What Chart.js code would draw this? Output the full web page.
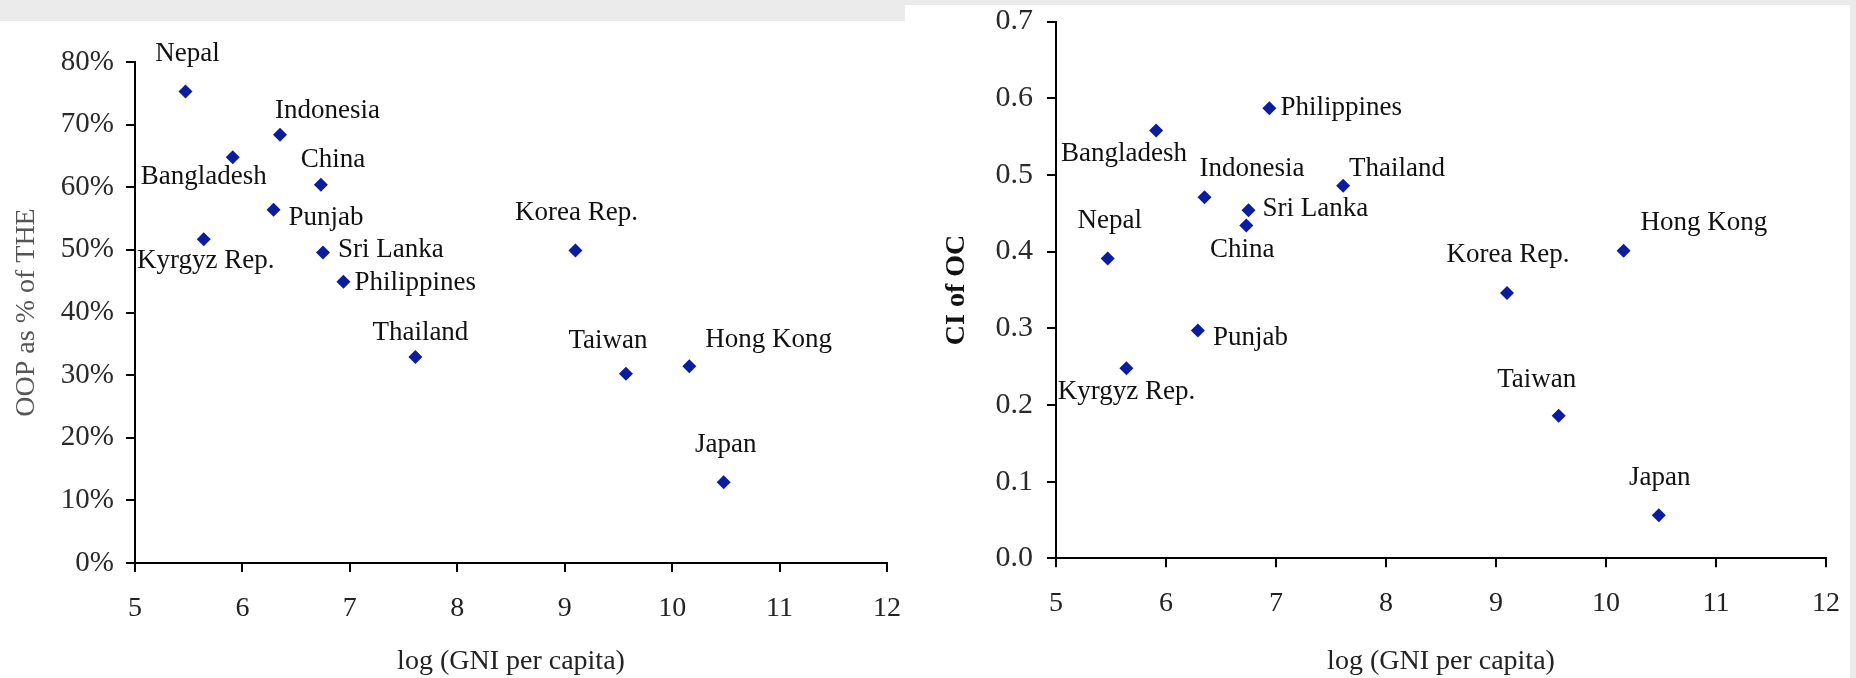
<!DOCTYPE html>
<html>
<head>
<meta charset="utf-8">
<script src="https://cdn.jsdelivr.net/npm/chart.js@4.4.1/dist/chart.umd.min.js"></script>
<style>
html,body{margin:0;padding:0;background:#fff;width:1856px;height:678px;overflow:hidden;position:relative}
.band{position:absolute;background:#ebebeb}
canvas{position:absolute;top:0}
</style>
</head>
<body>
<div class="band" style="left:0;top:0;width:905px;height:21px"></div>
<div class="band" style="left:905px;top:0;width:951px;height:5px"></div>
<div class="band" style="left:1850px;top:0;width:6px;height:678px"></div>
<canvas id="left" width="930" height="678" style="left:0"></canvas>
<canvas id="right" width="926" height="678" style="left:930px"></canvas>
<script>
// ---- data ----
const countries = ["Nepal","Bangladesh","Kyrgyz Rep.","Punjab","Indonesia","China","Sri Lanka","Philippines","Thailand","Korea Rep.","Taiwan","Hong Kong","Japan"];
const logGniPerCapita = [5.47, 5.91, 5.64, 6.29, 6.35, 6.73, 6.75, 6.94, 7.61, 9.10, 9.57, 10.16, 10.48];
const oopShareOfThe = [0.753, 0.648, 0.517, 0.564, 0.684, 0.604, 0.496, 0.449, 0.329, 0.499, 0.302, 0.314, 0.129];
const ciOfOc = [0.391, 0.558, 0.248, 0.297, 0.471, 0.434, 0.454, 0.587, 0.486, 0.346, 0.186, 0.401, 0.056];
const xTickLabels = ["5","6","7","8","9","10","11","12"];
const leftYTickLabels = ["0%","10%","20%","30%","40%","50%","60%","70%","80%"];
const rightYTickLabels = ["0.0","0.1","0.2","0.3","0.4","0.5","0.6","0.7"];

// ---- label placement (offsets in px from the marker, alignment) ----
const leftPlacement = {
  "Nepal":[2,-38,"center"], "Indonesia":[-5,-24,"left"], "China":[-20,-25,"left"],
  "Bangladesh":[-29,20,"center"], "Punjab":[15,8,"left"], "Kyrgyz Rep.":[2,22,"center"],
  "Sri Lanka":[15,-2,"left"], "Philippines":[11,1,"left"], "Korea Rep.":[1,-38,"center"],
  "Thailand":[5,-24,"center"], "Taiwan":[-18,-33,"center"], "Hong Kong":[16,-26,"left"],
  "Japan":[2,-37,"center"]
};
const rightPlacement = {
  "Philippines":[11,0,"left"], "Bangladesh":[-32,23,"center"], "Indonesia":[-5,-28,"left"],
  "Thailand":[6,-17,"left"], "Sri Lanka":[14,-1,"left"], "China":[-4,24,"center"],
  "Nepal":[2,-38,"center"], "Hong Kong":[17,-28,"left"], "Korea Rep.":[1,-38,"center"],
  "Punjab":[15,7,"left"], "Kyrgyz Rep.":[0,24,"center"], "Taiwan":[-22,-36,"center"],
  "Japan":[1,-37,"center"]
};

const SERIF = "'Liberation Serif', 'Times New Roman', serif";
const MARK = "#0b1c9c";

const labelPlugin = {
  id: 'pointNames',
  afterDatasetsDraw(chart, args, opts) {
    const ctx = chart.ctx;
    const meta = chart.getDatasetMeta(0);
    ctx.save();
    ctx.font = "27px " + SERIF;
    ctx.fillStyle = "#111";
    ctx.textBaseline = "middle";
    meta.data.forEach((pt, i) => {
      const name = countries[i];
      const p = opts.placement[name];
      ctx.textAlign = p[2];
      ctx.fillText(name, pt.x + p[0], pt.y + p[1]);
    });
    ctx.restore();
  }
};

function noOverflow(s) { s.paddingTop = 0; s.paddingBottom = 0; s.paddingLeft = 0; s.paddingRight = 0; }

function buildChart(id, yValues, yMax, yLabels, yTickSize, yTickPad, yTitle, yTitleFont, yTitleColor, placement, pad, yWidth, xHeight) {
  const pts = countries.map((c, i) => ({x: logGniPerCapita[i], y: yValues[i]}));
  const gridOpts = {drawOnChartArea: false, drawTicks: true, tickLength: 9, tickWidth: 2, tickColor: "#000", color: "#000", lineWidth: 2};
  return new Chart(document.getElementById(id), {
    type: 'scatter',
    data: {datasets: [{data: pts, pointStyle: 'rectRot', pointRadius: 7, pointHoverRadius: 7,
      backgroundColor: MARK, borderColor: MARK, borderWidth: 0}]},
    options: {
      responsive: false, animation: false, devicePixelRatio: 1,
      layout: {padding: pad},
      plugins: {legend: {display: false}, tooltip: {enabled: false}, pointNames: {placement}},
      scales: {
        x: {type: 'linear', min: 5, max: 12,
          afterFit: s => { s.height = xHeight; noOverflow(s); },
          border: {display: true, color: "#000", width: 2},
          grid: gridOpts,
          ticks: {stepSize: 1, padding: 20, color: "#222", font: {family: SERIF, size: 28},
            callback: (v) => xTickLabels[Math.round(v) - 5]},
          title: {display: true, text: "log (GNI per capita)", color: "#222",
            font: {family: SERIF, size: 28, lineHeight: 1.2}, padding: {top: 0, bottom: 0}}
        },
        y: {type: 'linear', min: 0, max: yMax,
          afterFit: s => { s.width = yWidth; noOverflow(s); },
          border: {display: true, color: "#000", width: 2},
          grid: gridOpts,
          ticks: {stepSize: 0.1, padding: yTickPad, color: "#2a2a2a", font: {family: SERIF, size: yTickSize},
            callback: (v) => yLabels[Math.round(v * 10)]},
          title: {display: true, text: yTitle, color: yTitleColor,
            font: yTitleFont, padding: {top: 10, bottom: 0}}
        }
      }
    },
    plugins: [labelPlugin]
  });
}

buildChart('left', oopShareOfThe, 0.8, leftYTickLabels, 29, 12, "OOP as % of THE",
  {family: SERIF, size: 28, lineHeight: 1.2}, "#555", leftPlacement,
  {left: 0, top: 62, right: 43, bottom: 0}, 135, 115);

buildChart('right', ciOfOc, 0.7, rightYTickLabels, 30, 14, "CI of OC",
  {family: SERIF, size: 28, weight: 'bold', lineHeight: 1.2}, "#111", rightPlacement,
  {left: 0, top: 21.6, right: 30, bottom: 0}, 126, 119.7);
</script>
</body>
</html>
